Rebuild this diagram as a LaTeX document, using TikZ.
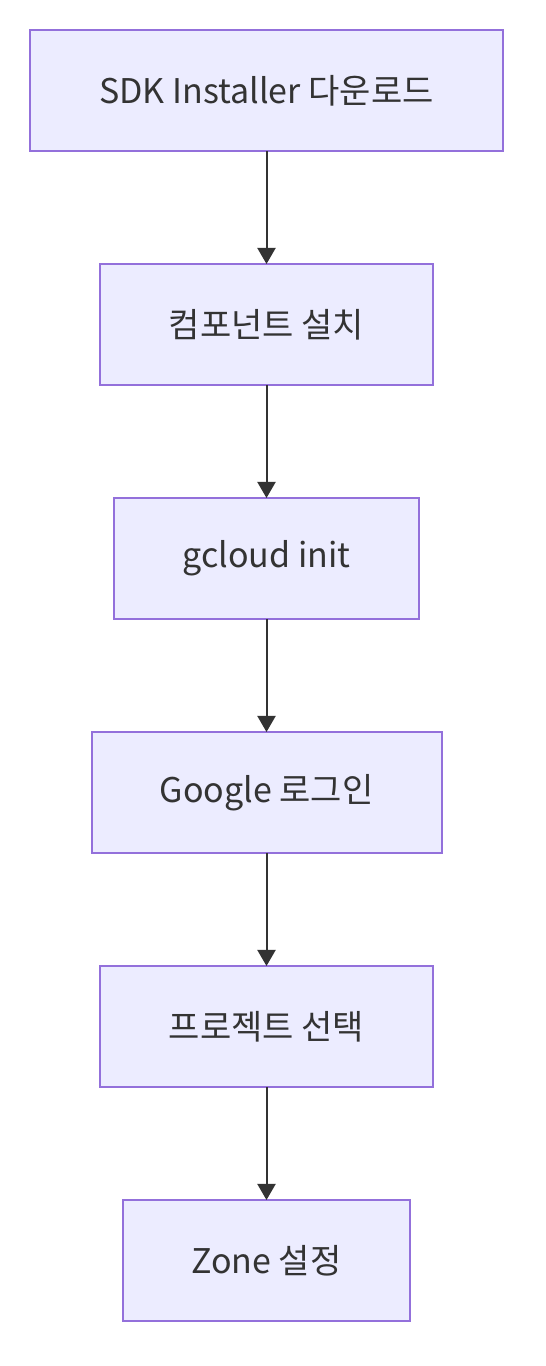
\documentclass[tikz,border=0pt]{standalone}
\usepackage{fontspec}
\setmainfont{Noto Sans CJK KR}
\usetikzlibrary{arrows.meta,positioning}
\definecolor{boxfill}{HTML}{ECECFF}
\definecolor{boxline}{HTML}{9370DB}
\definecolor{ink}{HTML}{333333}

\begin{document}
\begin{tikzpicture}[x=1pt,y=1pt,>={Triangle[length=16pt,width=18pt]},
 stepbox/.style={draw=boxline,fill=boxfill,line width=2pt,minimum height=121pt,
 inner sep=0pt,outer sep=0pt,text=ink,font=\fontsize{34}{40}\selectfont},
 flow/.style={->,ink,line width=2pt},
 node distance=113pt]
 \useasboundingbox (0,0) rectangle (546,1366);
 \node[stepbox,minimum width=473pt] (sdk) at (266.5,1275.5) {SDK Installer 다운로드};
 \node[stepbox,minimum width=333pt,below=of sdk] (comp) {컴포넌트 설치};
 \node[stepbox,minimum width=305pt,below=of comp] (init) {gcloud init};
 \node[stepbox,minimum width=350pt,below=of init] (login) {Google 로그인};
 \node[stepbox,minimum width=333pt,below=of login] (proj) {프로젝트 선택};
 \node[stepbox,minimum width=287pt,below=of proj] (zone) {Zone 설정};
 \draw[flow] (sdk) -- (comp);
 \draw[flow] (comp) -- (init);
 \draw[flow] (init) -- (login);
 \draw[flow] (login) -- (proj);
 \draw[flow] (proj) -- (zone);
\end{tikzpicture}
\end{document}
